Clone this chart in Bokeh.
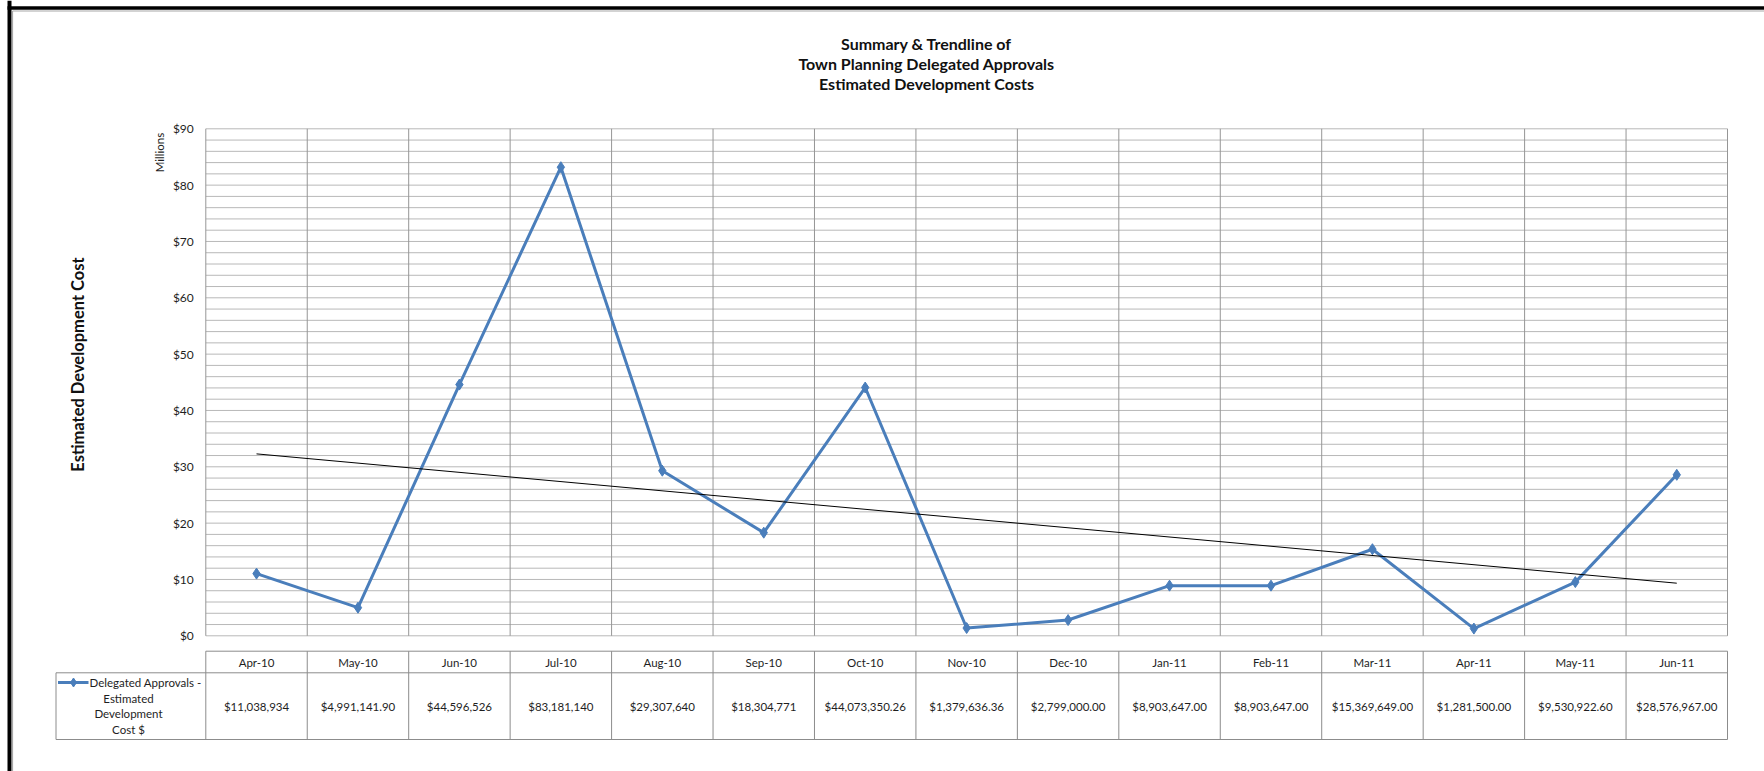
import numpy as np
from bokeh.plotting import figure
from bokeh.models import Range1d, LinearAxis, FixedTicker, NumeralTickFormatter, Label
from bokeh.core.properties import value
from bokeh.embed import file_html
from bokeh.resources import INLINE

# ---------------- data ----------------
months = ["Apr-10", "May-10", "Jun-10", "Jul-10", "Aug-10", "Sep-10", "Oct-10", "Nov-10",
          "Dec-10", "Jan-11", "Feb-11", "Mar-11", "Apr-11", "May-11", "Jun-11"]
costs = [11038934, 4991141.90, 44596526, 83181140, 29307640, 18304771, 44073350.26,
         1379636.36, 2799000.00, 8903647.00, 8903647.00, 15369649.00, 1281500.00,
         9530922.60, 28576967.00]
cost_labels = ["$11,038,934", "$4,991,141.90", "$44,596,526", "$83,181,140", "$29,307,640",
               "$18,304,771", "$44,073,350.26", "$1,379,636.36", "$2,799,000.00",
               "$8,903,647.00", "$8,903,647.00", "$15,369,649.00", "$1,281,500.00",
               "$9,530,922.60", "$28,576,967.00"]
y_ticks = [0, 10, 20, 30, 40, 50, 60, 70, 80, 90]
title_lines = ["Summary & Trendline of", "Town Planning Delegated Approvals",
               "Estimated Development Costs"]
legend_lines = ["Delegated Approvals -", "Estimated", "Development", "Cost $"]
y_title = "Estimated Development Cost"
unit_label = "Millions"

# ---------------- layout (pixels) ----------------
W, H = 1764, 771
PL, PR = 205.3, 1727.0
PT, PB = 128.3, 635.3
n = len(months)
YMAX = y_ticks[-1]
colw = (PR - PL) / n
ppu = (PB - PT) / YMAX


def X(px):
    return (px - PL) / colw


def Y(py):
    return (PB - py) / ppu


FONT = "Lato"
BLUE = "#4a7ebb"
TXT = "#1e1e1e"
FS = "11.5px"

p = figure(width=W, height=H, output_backend="svg", toolbar_location=None,
           x_axis_type=None, y_axis_type=None,
           x_range=Range1d(X(0), X(W)), y_range=Range1d(Y(H), Y(0)),
           min_border=0, outline_line_color=None,
           background_fill_color="white", border_fill_color="white")

# gridlines of plot area
hy = np.arange(0, YMAX + 1, 2)
p.segment(x0=0, x1=n, y0=hy, y1=hy, line_color="#b8b8b8", line_width=1)
vx = np.arange(0, n + 1)
p.segment(x0=vx, x1=vx, y0=0, y1=YMAX, line_color="#969696", line_width=1)

# y axis
yaxis = LinearAxis(fixed_location=0, ticker=FixedTicker(ticks=y_ticks),
                   formatter=NumeralTickFormatter(format="$0"),
                   axis_line_color=None, major_tick_line_color=None,
                   minor_tick_line_color=None, major_tick_in=0, major_tick_out=0,
                   major_label_standoff=12, major_label_text_font=FONT,
                   major_label_text_font_size="12px", major_label_text_color=TXT)
p.add_layout(yaxis, "left")

# series
vals = np.array(costs) / 1e6
xc = np.arange(n) + 0.5
p.line(xc, vals, line_color=BLUE, line_width=3)
p.scatter(xc, vals, marker="diamond", size=11, fill_color=BLUE, line_color=BLUE)

# linear trendline (least squares)
m, b = np.polyfit(np.arange(1, n + 1), vals, 1)
p.line([xc[0], xc[-1]], [m * 1 + b, m * n + b], line_color="black", line_width=1)

# data table
TT, TM, TB = 650.7, 672.3, 739.0
LC = 55.5
tcol = "#8c8c8c"
p.segment(x0=[0, X(LC), X(LC)], x1=[n, n, n], y0=[Y(TT), Y(TM), Y(TB)], y1=[Y(TT), Y(TM), Y(TB)],
          line_color=tcol, line_width=1)
p.segment(x0=vx, x1=vx, y0=Y(TT), y1=Y(TB), line_color=tcol, line_width=1)
p.segment(x0=[X(LC)], x1=[X(LC)], y0=[Y(TM)], y1=[Y(TB)], line_color=tcol, line_width=1)

p.text(x=xc, y=Y((TT + TM) / 2), text=months, text_align="center", text_baseline="middle",
       text_font=value(FONT), text_font_size=FS, text_color=TXT)
p.text(x=xc, y=Y((TM + TB) / 2), text=cost_labels, text_align="center", text_baseline="middle",
       text_font=value(FONT), text_font_size=FS, text_color=TXT)

# legend key inside table
p.line([X(57.5), X(88)], [Y(682), Y(682)], line_color=BLUE, line_width=3)
p.scatter([X(73)], [Y(682)], marker="diamond", size=9, fill_color=BLUE, line_color=BLUE)
p.text(x=[X(89)], y=[Y(682)], text=[legend_lines[0]], text_align="left", text_baseline="middle",
       text_font=value(FONT), text_font_size=FS, text_color=TXT)
p.text(x=[X(128)] * 3, y=[Y(697.5), Y(713), Y(728.5)], text=legend_lines[1:], text_align="center",
       text_baseline="middle", text_font=value(FONT), text_font_size=FS, text_color=TXT)

# titles
for t, py in zip(title_lines, [43, 63, 83]):
    p.add_layout(Label(x=X(926), y=Y(py), text=t, text_align="center", text_baseline="middle",
                       text_font=FONT, text_font_style="bold", text_font_size="16px",
                       text_color="#111111"))
p.add_layout(Label(x=X(77), y=Y(364), text=y_title, angle=np.pi / 2, text_align="center",
                   text_baseline="middle", text_font=FONT, text_font_style="bold",
                   text_font_size="16.5px", text_color="#111111"))
p.add_layout(Label(x=X(159), y=Y(152), text=unit_label, angle=np.pi / 2, text_align="center",
                   text_baseline="middle", text_font=FONT, text_font_size="11.5px",
                   text_color=TXT))

# outer chart frame (black edge + thin grey inner line)
p.segment(x0=[X(9)], x1=[X(9)], y0=[Y(0)], y1=[Y(H)], line_color="black", line_width=4)
p.segment(x0=[X(7)], x1=[X(W)], y0=[Y(7.5)], y1=[Y(7.5)], line_color="black", line_width=3.6)
p.segment(x0=[X(12)], x1=[X(12)], y0=[Y(10.5)], y1=[Y(H)], line_color="#a8a8a8", line_width=1.2)
p.segment(x0=[X(12)], x1=[X(W)], y0=[Y(10.5)], y1=[Y(10.5)], line_color="#a8a8a8", line_width=1.2)

open("out.html", "w").write(file_html(p, INLINE))
